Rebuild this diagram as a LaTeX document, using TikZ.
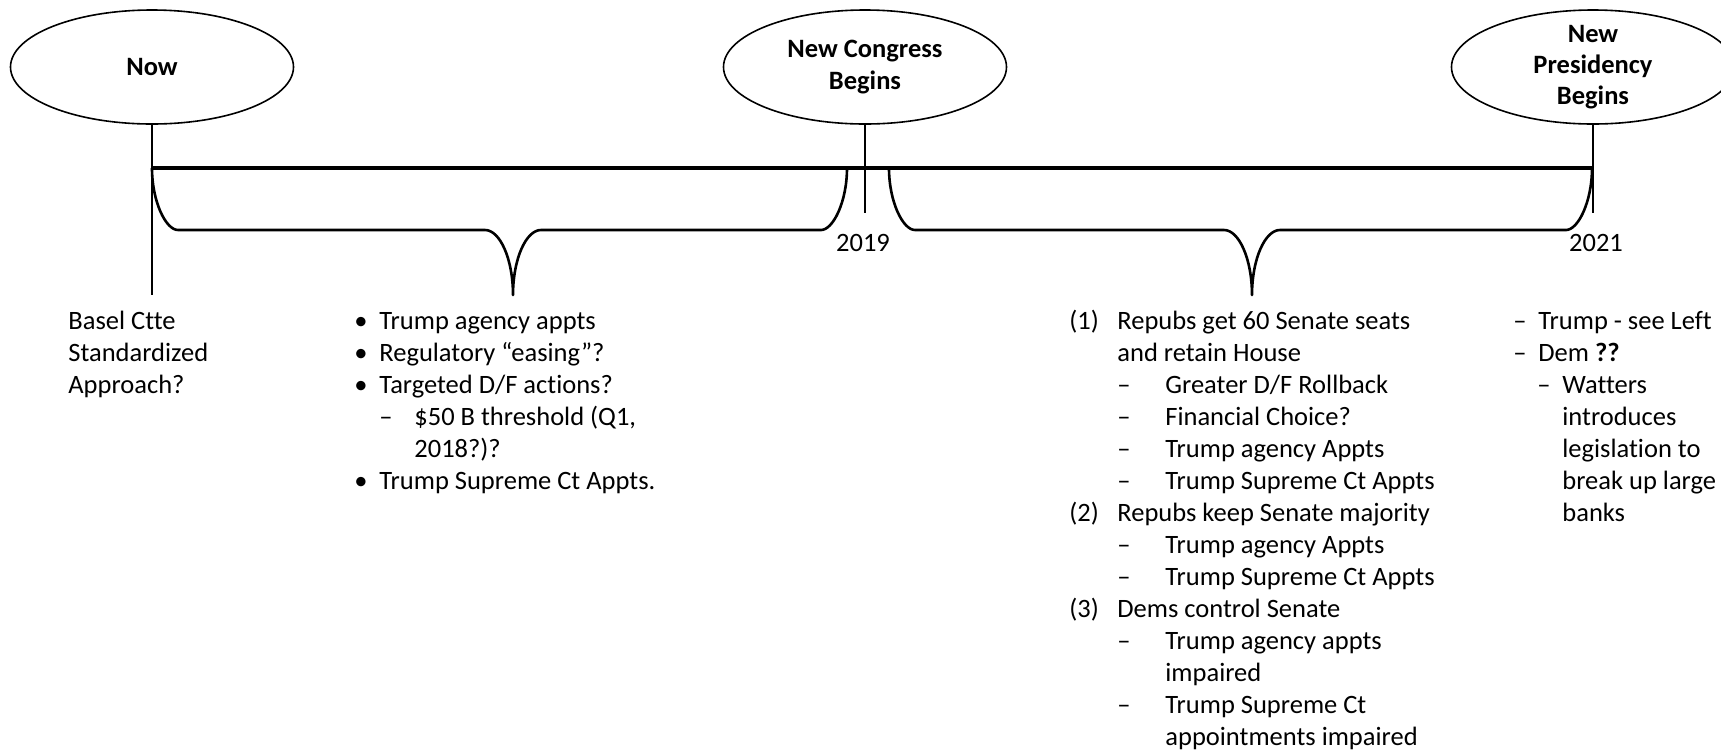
\documentclass[tikz,border=0pt]{standalone}
\usepackage{fontspec}
\setmainfont{Carlito}[Ligatures=NoCommon]
\usetikzlibrary{shapes.geometric}
\newcommand{\mk}[2]{\makebox[#1][l]{#2}}
\newcommand{\dsh}{\mk{24pt}{}\mk{24pt}{--}}
\begin{document}
\begin{tikzpicture}[x=0.5pt, y=-0.5pt,
  every node/.style={inner sep=0pt, font=\fontsize{13.25pt}{16pt}\selectfont},
  evt/.style={ellipse, draw, line width=0.8pt, minimum width=141.5pt, minimum height=57pt, inner ysep=-2pt,
    align=center, font=\fontsize{13.25pt}{15.6pt}\selectfont\bfseries},
  tline/.style={line width=1.6pt},
  stem/.style={line width=1.2pt},
  brc/.style={line width=1.3pt, line join=round},
  txt/.style={anchor=base west, align=left}]
\useasboundingbox (0,0) rectangle (1721,751);
% the three dates
\node [evt] (now) at (152,67) {Now};
\node [evt] (cong) at (865,67) {New Congress\\Begins};
\node [evt] (pres) at (1593,67) {New\\Presidency\\Begins};
\coordinate (t0) at (152,168);
\coordinate (t1) at (1593,168);
\coordinate (nowend) at (152,295);
\coordinate (congend) at (865,213);
\coordinate (presend) at (1593,213);
\draw [tline] (t0) -- (t1);
\draw [stem] (now.south) -- (nowend);
\draw [stem] (cong.south) -- (congend);
\draw [stem] (pres.south) -- (presend);
\node (y19) at (863,243) {2019};
\node (y21) at (1596,243) {2021};
% braces
\draw [brc] (152,168) .. controls (152,202) and (166,230) .. (178,230) -- (485,230)
  .. controls (500,230) and (513,259) .. (513,295) .. controls (513,259) and (526,230) .. (541,230)
  -- (821,230) .. controls (833,230) and (847,202) .. (847,168);
\draw [brc] (889,168) .. controls (889,202) and (903,230) .. (915,230) -- (1224,230)
  .. controls (1239,230) and (1252,259) .. (1252,295) .. controls (1252,259) and (1265,230) .. (1280,230)
  -- (1566,230) .. controls (1578,230) and (1592,202) .. (1592,168);
% what may happen (anchored on the last line)
\node [txt] (basel) at (68,393) {Basel Ctte\\Standardized\\Approach?};
\node [txt] (near) at (354,489) {\mk{12.5pt}{•}Trump agency appts\\
  \mk{12.5pt}{•}Regulatory “easing”?\\
  \mk{12.5pt}{•}Targeted D/F actions?\\
  \mk{12.5pt}{}\mk{17.5pt}{--}\$50 B threshold (Q1,\\
  \mk{30pt}{}2018?)?\\
  \mk{12.5pt}{•}Trump Supreme Ct Appts.};
\node [txt] (cases) at (1069,745) {\mk{24pt}{(1)}Repubs get 60 Senate seats\\
  \mk{24pt}{}and retain House\\
  \dsh Greater D/F Rollback\\
  \dsh Financial Choice?\\
  \dsh Trump agency Appts\\
  \dsh Trump Supreme Ct Appts\\
  \mk{24pt}{(2)}Repubs keep Senate majority\\
  \dsh Trump agency Appts\\
  \dsh Trump Supreme Ct Appts\\
  \mk{24pt}{(3)}Dems control Senate\\
  \dsh Trump agency appts\\
  \mk{48pt}{}impaired\\
  \dsh Trump Supreme Ct\\
  \mk{48pt}{}appointments impaired};
\node [txt] (late) at (1513,521) {\mk{12.5pt}{--}Trump - see Left\\
  \mk{12.5pt}{--}Dem \textbf{??}\\
  \mk{12pt}{}\mk{12.5pt}{--}Watters\\
  \mk{24.5pt}{}introduces\\
  \mk{24.5pt}{}legislation to\\
  \mk{24.5pt}{}break up large\\
  \mk{24.5pt}{}banks};
\end{tikzpicture}
\end{document}
